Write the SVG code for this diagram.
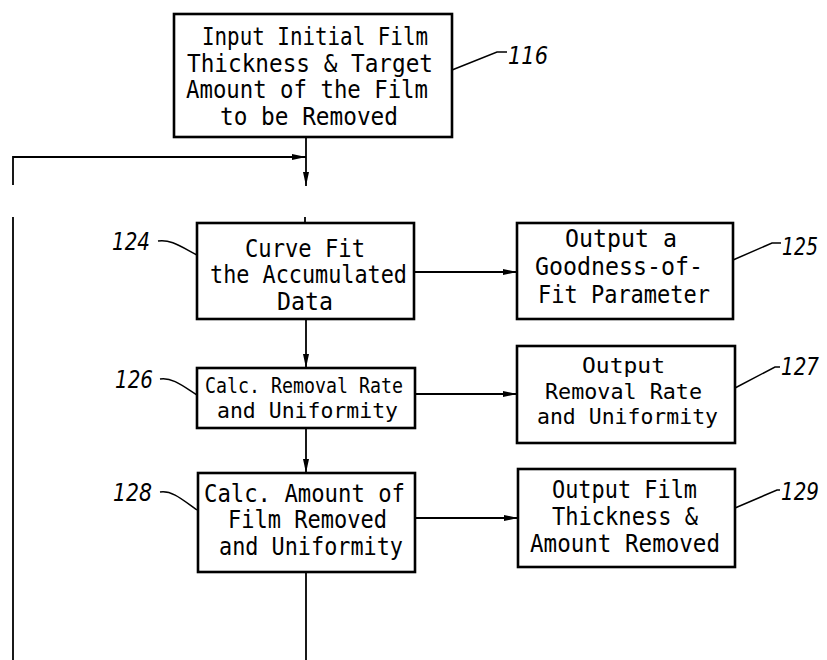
<svg xmlns="http://www.w3.org/2000/svg" width="827" height="660" viewBox="0 0 827 660">
  <style>
    .box { fill: #fff; stroke: #000; stroke-width: 2.6; }
    .t { font-family: "DejaVu Sans Mono", "Liberation Mono", monospace; font-size: 24px; fill: #000; }
    .ts { font-size: 22px; }
    .lbl { font-family: "DejaVu Sans", "Liberation Sans", sans-serif; font-style: italic; font-size: 24px; fill: #000; }
    .lead { fill: none; stroke: #000; stroke-width: 1.5; }
    .wire { fill: none; stroke: #000; stroke-width: 1.8; }
  </style>
  <defs>
    <marker id="arr" markerUnits="userSpaceOnUse" markerWidth="14" markerHeight="6" refX="14" refY="3" orient="auto">
      <path d="M0,0 L14,3 L0,6 z" fill="#000"/>
    </marker>
  </defs>
  <rect width="827" height="660" fill="#fff"/>

  <g id="connectors">
    <path class="wire" d="M306 137 V186" marker-end="url(#arr)"/>
    <path class="wire" d="M13 185 V157 H306" marker-end="url(#arr)"/>
    <path class="wire" d="M13 217 V660"/>
    <path class="wire" d="M305 217 V223"/>
    <path class="wire" d="M306 319 V368" marker-end="url(#arr)"/>
    <path class="wire" d="M306 428 V473" marker-end="url(#arr)"/>
    <path class="wire" d="M306 572 V660"/>
    <path class="wire" d="M414 272 H517" marker-end="url(#arr)"/>
    <path class="wire" d="M415 394 H517" marker-end="url(#arr)"/>
    <path class="wire" d="M415 518 H518" marker-end="url(#arr)"/>
  </g>

  <g id="node-116">
    <rect class="box" x="174" y="14" width="278" height="123"/>
    <text class="t" x="202" y="45" textLength="226" lengthAdjust="spacingAndGlyphs">Input Initial Film</text>
    <text class="t" x="187" y="72" textLength="246" lengthAdjust="spacingAndGlyphs">Thickness &amp; Target</text>
    <text class="t" x="186" y="98" textLength="242" lengthAdjust="spacingAndGlyphs">Amount of the Film</text>
    <text class="t" x="220" y="125" textLength="178" lengthAdjust="spacingAndGlyphs">to be Removed</text>
    <path class="lead" d="M452 70 L497 52 L507 52"/>
    <text class="lbl" x="508" y="64" textLength="40" lengthAdjust="spacingAndGlyphs">116</text>
  </g>

  <g id="node-124">
    <rect class="box" x="197" y="223" width="217" height="96"/>
    <text class="t" x="245" y="257" textLength="120" lengthAdjust="spacingAndGlyphs">Curve Fit</text>
    <text class="t" x="210" y="283" textLength="197" lengthAdjust="spacingAndGlyphs">the Accumulated</text>
    <text class="t" x="277" y="310" textLength="56" lengthAdjust="spacingAndGlyphs">Data</text>
    <path class="lead" d="M158 241 C170 239 180 246 197 255"/>
    <text class="lbl" x="112" y="250" textLength="38" lengthAdjust="spacingAndGlyphs">124</text>
  </g>

  <g id="node-125">
    <rect class="box" x="517" y="223" width="216" height="96"/>
    <text class="t" x="565" y="247" textLength="112" lengthAdjust="spacingAndGlyphs">Output a</text>
    <text class="t" x="535" y="275" textLength="168" lengthAdjust="spacingAndGlyphs">Goodness-of-</text>
    <text class="t" x="538" y="303" textLength="172" lengthAdjust="spacingAndGlyphs">Fit Parameter</text>
    <path class="lead" d="M733 260 L772 243 L781 243"/>
    <text class="lbl" x="782" y="255" textLength="36" lengthAdjust="spacingAndGlyphs">125</text>
  </g>

  <g id="node-126">
    <rect class="box" x="197" y="368" width="218" height="60"/>
    <text class="t ts" x="205" y="393" textLength="198" lengthAdjust="spacingAndGlyphs">Calc. Removal Rate</text>
    <text class="t ts" x="217" y="418" textLength="181" lengthAdjust="spacingAndGlyphs">and Uniformity</text>
    <path class="lead" d="M160 379 C172 377 183 386 197 395"/>
    <text class="lbl" x="115" y="388" textLength="38" lengthAdjust="spacingAndGlyphs">126</text>
  </g>

  <g id="node-127">
    <rect class="box" x="517" y="346" width="218" height="97"/>
    <text class="t ts" x="582" y="373" textLength="83" lengthAdjust="spacingAndGlyphs">Output</text>
    <text class="t ts" x="545" y="399" textLength="157" lengthAdjust="spacingAndGlyphs">Removal Rate</text>
    <text class="t ts" x="537" y="424" textLength="181" lengthAdjust="spacingAndGlyphs">and Uniformity</text>
    <path class="lead" d="M735 388 L775 367 L780 367"/>
    <text class="lbl" x="781" y="375" textLength="38" lengthAdjust="spacingAndGlyphs">127</text>
  </g>

  <g id="node-128">
    <rect class="box" x="198" y="473" width="217" height="99"/>
    <text class="t" x="204" y="502" textLength="201" lengthAdjust="spacingAndGlyphs">Calc. Amount of</text>
    <text class="t" x="228" y="528" textLength="159" lengthAdjust="spacingAndGlyphs">Film Removed</text>
    <text class="t" x="219" y="555" textLength="184" lengthAdjust="spacingAndGlyphs">and Uniformity</text>
    <path class="lead" d="M160 492 C172 490 183 500 197 510"/>
    <text class="lbl" x="113" y="501" textLength="39" lengthAdjust="spacingAndGlyphs">128</text>
  </g>

  <g id="node-129">
    <rect class="box" x="518" y="469" width="217" height="98"/>
    <text class="t" x="552" y="498" textLength="145" lengthAdjust="spacingAndGlyphs">Output Film</text>
    <text class="t" x="552" y="525" textLength="146" lengthAdjust="spacingAndGlyphs">Thickness &amp;</text>
    <text class="t" x="530" y="552" textLength="190" lengthAdjust="spacingAndGlyphs">Amount Removed</text>
    <path class="lead" d="M735 508 L777 490 L780 490"/>
    <text class="lbl" x="781" y="500" textLength="38" lengthAdjust="spacingAndGlyphs">129</text>
  </g>
</svg>
